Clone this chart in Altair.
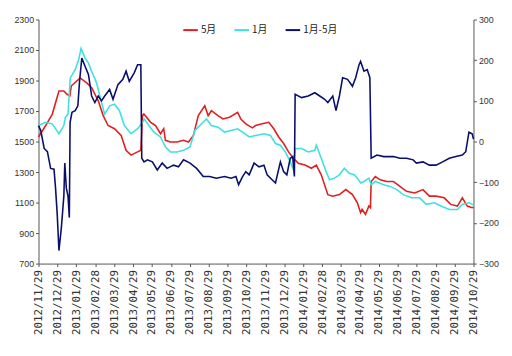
import altair as alt
import pandas as pd

# x positions are in "month index" units: 0 = 2012/11/29 ... 23 = 2014/10/29
month_labels = ["2012/11/29", "2012/12/29", "2013/01/29", "2013/02/28", "2013/03/29",
                "2013/04/29", "2013/05/29", "2013/06/29", "2013/07/29", "2013/08/29",
                "2013/09/29", "2013/10/29", "2013/11/29", "2013/12/29", "2014/01/29",
                "2014/02/28", "2014/03/29", "2014/04/29", "2014/05/29", "2014/06/29",
                "2014/07/29", "2014/08/29", "2014/09/29", "2014/10/29"]

may_x = [0.00, 0.38, 0.73, 1.08, 1.34, 1.51, 1.66, 1.73, 2.20, 2.55, 2.81, 3.16, 3.42, 3.68,
         4.02, 4.37, 4.63, 4.89, 5.24, 5.41, 5.50, 5.57, 5.93, 6.19, 6.45, 6.62, 6.71, 6.97,
         7.32, 7.67, 7.93, 8.19, 8.45, 8.79, 8.97, 9.14, 9.49, 9.75, 10.10, 10.53, 10.70,
         10.96, 11.31, 11.48, 11.83, 12.18, 12.44, 12.70, 12.96, 13.22, 13.48, 13.74, 14.09,
         14.43, 14.69, 14.95, 15.30, 15.56, 15.91, 16.25, 16.60, 16.86, 17.03, 17.11, 17.29,
         17.47, 17.55, 17.59, 17.81, 18.07, 18.42, 18.77, 19.11, 19.46, 19.89, 20.33, 20.67,
         21.02, 21.45, 21.80, 22.15, 22.41, 22.67, 22.93, 23.00]
may_y = [1530, 1605, 1680, 1831, 1831, 1810, 1800, 1864, 1917, 1885, 1853, 1767, 1670, 1605,
         1584, 1540, 1443, 1411, 1432, 1443, 1670, 1680, 1626, 1605, 1551, 1584, 1508, 1497,
         1497, 1508, 1497, 1540, 1670, 1734, 1670, 1702, 1670, 1648, 1659, 1691, 1648,
         1616, 1590, 1605, 1616, 1626, 1584, 1530, 1487, 1432, 1390, 1357, 1346,
         1325, 1346, 1282, 1152, 1142, 1152, 1185, 1152, 1099, 1034, 1055, 1023,
         1077, 1066, 1238, 1271, 1249, 1238, 1238, 1206, 1174, 1163, 1185, 1142,
         1142, 1131, 1088, 1077, 1131, 1077, 1066, 1070]

jan_x = [0.00, 0.38, 0.73, 1.08, 1.34, 1.42, 1.56, 1.68, 1.94, 2.12, 2.25, 2.46, 2.64, 2.81,
         3.07, 3.33, 3.50, 3.76, 4.02, 4.28, 4.54, 4.89, 5.24, 5.50, 5.59, 5.84, 6.10, 6.45,
         6.71, 6.97, 7.32, 7.67, 8.01, 8.27, 8.53, 8.88, 9.14, 9.49, 9.84, 10.18, 10.53,
         10.79, 11.14, 11.48, 11.92, 12.26, 12.53, 12.79, 13.05, 13.31, 13.48, 13.57, 13.91,
         14.26, 14.61, 14.69, 14.95, 15.21, 15.39, 15.65, 15.91, 16.17, 16.43, 16.69, 16.86,
         17.03, 17.21, 17.47, 17.59, 17.81, 18.25, 18.59, 18.94, 19.29, 19.72, 20.15, 20.50,
         20.93, 21.28, 21.72, 22.15, 22.41, 22.76, 23.00]
jan_y = [1605, 1626, 1616, 1551, 1605, 1659, 1680, 1917, 1971, 2036, 2111, 2047, 2014, 1960,
         1885, 1756, 1680, 1734, 1745, 1702, 1605, 1551, 1584, 1626, 1648, 1605, 1562, 1530,
         1465, 1432, 1432, 1443, 1465, 1573, 1605, 1648, 1605, 1594, 1562, 1573, 1584,
         1562, 1530, 1540, 1551, 1540, 1487, 1476, 1432, 1368, 1314, 1454, 1454,
         1432, 1443, 1476, 1390, 1303, 1249, 1260, 1282, 1325, 1292, 1282, 1260,
         1228, 1238, 1260, 1217, 1238, 1217, 1206, 1185, 1152, 1131, 1131, 1088,
         1099, 1077, 1055, 1055, 1088, 1099, 1085]

spread_x = [0.00, 0.12, 0.30, 0.47, 0.64, 0.82, 0.90, 0.99, 1.08, 1.21, 1.34, 1.39, 1.47, 1.56,
            1.63, 1.67, 1.77, 1.94, 2.08, 2.17, 2.29, 2.46, 2.64, 2.81, 2.98, 3.16, 3.33, 3.50,
            3.76, 3.94, 4.20, 4.46, 4.63, 4.80, 5.06, 5.24, 5.41, 5.46, 5.58, 5.76, 6.02, 6.28,
            6.54, 6.80, 7.14, 7.40, 7.67, 8.01, 8.36, 8.71, 9.05, 9.40, 9.84, 10.18, 10.44,
            10.58, 10.79, 10.96, 11.14, 11.40, 11.66, 11.92, 12.09, 12.35, 12.53, 12.79, 12.96,
            13.13, 13.31, 13.44, 13.53, 13.57, 13.91, 14.26, 14.61, 14.87, 15.13, 15.30, 15.56,
            15.73, 15.91, 16.08, 16.34, 16.60, 16.77, 16.95, 17.03, 17.21, 17.38, 17.52, 17.59,
            17.90, 18.25, 18.77, 19.11, 19.46, 19.81, 19.98, 20.33, 20.67, 21.02, 21.37, 21.72,
            22.07, 22.41, 22.59, 22.76, 22.93, 23.00]
spread_y = [39, 27, -17, -25, -66, -68, -114, -179, -268, -211, -134, -53, -114, -134,
            -187, 47, 72, 76, 88, 148, 205, 185, 165, 112, 96, 112, 100, 112,
            128, 104, 140, 153, 173, 148, 169, 189, 189, -41, -50, -45, -50, -70,
            -53, -66, -58, -62, -45, -53, -66, -86, -86, -90, -86, -90, -86,
            -106, -86, -74, -82, -53, -62, -58, -82, -94, -102, -50, -74,
            -82, -41, -37, -86, 116, 108, 112, 120, 112, 104, 96, 112,
            76, 112, 157, 153, 136, 157, 189, 197, 173, 177, 157, -41,
            -33, -37, -37, -41, -41, -45, -53, -50, -58, -58, -50, -41,
            -37, -33, -25, 23, 19, 6]

series_names = ["5月", "1月", "1月-5月"]
series_colors = ["#E02020", "#40E0E0", "#0A0F6E"]
left_ticks = [700, 900, 1100, 1300, 1500, 1700, 1900, 2100, 2300]
right_ticks = [-300, -200, -100, 0, 100, 200, 300]

left_df = pd.concat([
    pd.DataFrame({"x": may_x, "v": may_y, "series": "5月", "o": range(len(may_x))}),
    pd.DataFrame({"x": jan_x, "v": jan_y, "series": "1月", "o": range(len(jan_x))}),
])
right_df = pd.DataFrame({"x": spread_x, "s": spread_y, "series": "1月-5月",
                         "o": range(len(spread_x))})

label_arr = "[" + ",".join("'%s'" % l for l in month_labels) + "]"

x_enc = alt.X("x:Q", scale=alt.Scale(domain=[0, 23], nice=False, zero=False),
              axis=alt.Axis(values=list(range(24)), labelExpr=label_arr + "[datum.value]",
                            labelAngle=270, labelFont="DejaVu Sans Mono", labelFontSize=11,
                            labelColor="#333333", title=None, grid=False, tickSize=3,
                            domainColor="#555555", tickColor="#555555", labelPadding=3,
                            labelOverlap=False))

color_enc = alt.Color("series:N",
                      scale=alt.Scale(domain=series_names, range=series_colors),
                      legend=alt.Legend(title=None, orient="none", direction="horizontal",
                                        legendX=146, legendY=2, symbolType="stroke",
                                        symbolSize=220, symbolStrokeWidth=2,
                                        labelFont="Noto Sans CJK SC", labelFontSize=10,
                                        labelColor="#222222", columnPadding=14,
                                        labelOffset=2))

left = alt.Chart(left_df).mark_line(strokeWidth=1.6).encode(
    x=x_enc,
    y=alt.Y("v:Q", scale=alt.Scale(domain=[700, 2300], nice=False, zero=False),
            axis=alt.Axis(orient="left", values=left_ticks, format="d", title=None, grid=False,
                          labelFont="Liberation Sans", labelFontSize=9, labelColor="#333333",
                          tickSize=3, domainColor="#555555", tickColor="#555555",
                          labelPadding=2)),
    color=color_enc,
    order="o:Q",
)

right = alt.Chart(right_df).mark_line(strokeWidth=1.6).encode(
    x=x_enc,
    y=alt.Y("s:Q", scale=alt.Scale(domain=[-300, 300], nice=False, zero=False),
            axis=alt.Axis(orient="right", values=right_ticks, format="d", title=None, grid=False,
                          labelFont="Liberation Sans", labelFontSize=9, labelColor="#333333",
                          tickSize=3, domainColor="#555555", tickColor="#555555",
                          labelPadding=2)),
    color=color_enc,
    order="o:Q",
)

chart = alt.layer(left, right).resolve_scale(y="independent").properties(
    width=442, height=248,
    padding={"left": 5, "top": 5, "right": 5, "bottom": 5},
).configure_view(stroke=None)

chart.save("out.html", embed_options={"renderer": "svg", "actions": False})
